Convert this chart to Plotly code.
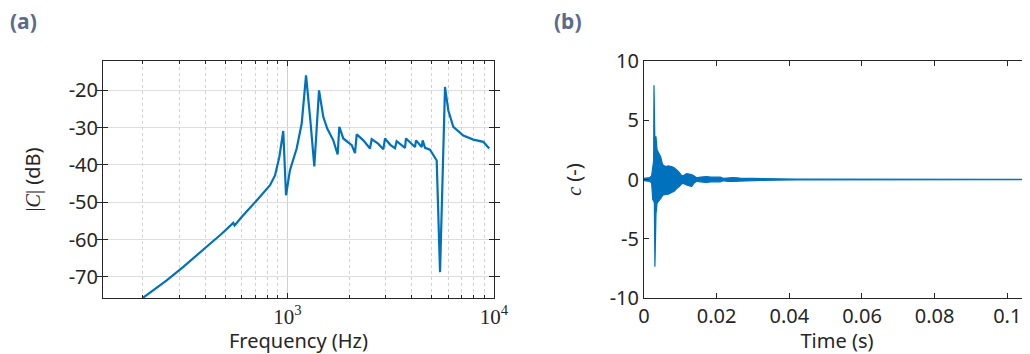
import plotly.graph_objects as go

# ---------------- data: panel (a) ----------------
freq_hz = [200, 260, 314, 370, 423, 480, 530, 548, 556, 600, 711, 825, 872, 915, 956,
           986, 1030, 1110, 1174, 1232, 1297, 1351, 1424, 1493, 1562, 1670, 1752, 1785,
           1866, 2049, 2126, 2167, 2333, 2512, 2560, 2750, 2914, 2970, 3150, 3319, 3381,
           3550, 3710, 3752, 3950, 4148, 4195, 4385, 4467, 4518, 4640, 4902, 5183, 5282,
           5482, 5794, 6012, 6355, 7104, 7943, 8875, 9480]
mag_db = [-75.6, -71.0, -67.3, -64.0, -61.1, -58.5, -56.3, -55.5, -56.2, -54.0, -49.5,
          -45.4, -42.8, -37.9, -30.9, -48.1, -41.4, -35.6, -28.9, -16.0, -28.9, -40.4,
          -20.0, -27.1, -30.3, -33.4, -37.2, -29.8, -32.9, -34.7, -36.8, -31.8, -33.4,
          -35.6, -33.1, -34.3, -35.8, -32.9, -34.6, -35.5, -33.6, -34.5, -35.4, -32.9,
          -34.2, -35.2, -33.4, -34.7, -35.2, -33.4, -35.4, -35.9, -38.0, -38.8, -68.7,
          -19.1, -25.4, -29.8, -32.1, -33.2, -33.8, -35.6]

# ---------------- data: panel (b) (envelope of the oscillating signal) ----------------
t_s = [0, 0.0015, 0.0021, 0.0024, 0.00265, 0.00275, 0.00285, 0.0030, 0.0031, 0.0033,
       0.0036, 0.0039, 0.0043, 0.0046, 0.0050, 0.0053, 0.0060, 0.0067, 0.0076, 0.0083,
       0.0090, 0.0097, 0.0104, 0.0110, 0.0117, 0.0124, 0.0131, 0.0138, 0.0145, 0.0155,
       0.0165, 0.0172, 0.0185, 0.0200, 0.0210, 0.0218, 0.0230, 0.0246, 0.0264, 0.0290,
       0.0320, 0.0360, 0.0420, 0.1100]
c_upper = [0.1, 0.15, 0.3, 1.3, 1.6, 7.96, 3.0, 3.0, 3.6, 3.6, 2.5, 2.3, 2.0, 1.9, 1.4,
           1.2, 1.1, 1.15, 1.1, 1.0, 0.8, 0.6, 0.3, 0.35, 0.5, 0.45, 0.42, 0.3, 0.14, 0.2,
           0.25, 0.25, 0.2, 0.2, 0.2, 0.1, 0.15, 0.17, 0.12, 0.1, 0.08, 0.06, 0.03, 0.02]
c_lower = [-0.1, -0.15, -0.3, -1.7, -1.8, -2.0, -2.0, -7.37, -2.9, -2.9, -2.0, -1.9,
           -1.7, -1.6, -1.4, -1.3, -1.25, -1.24, -1.1, -1.0, -0.76, -0.6, -0.35, -0.35,
           -0.45, -0.5, -0.6, -0.3, -0.14, -0.2, -0.25, -0.25, -0.2, -0.2, -0.2, -0.1,
           -0.15, -0.15, -0.12, -0.1, -0.08, -0.06, -0.03, -0.02]

x_major = [1000, 10000]
x_major_text = ["10<sup>3</sup>", "10<sup>4</sup>"]
x_minor = [200, 300, 400, 500, 600, 700, 800, 900, 2000, 3000, 4000, 5000, 6000, 7000, 8000, 9000]
y_ticks_a = [-70, -60, -50, -40, -30, -20]
y_ticks_a_text = ["-70", "-60", "-50", "-40", "-30", "-20"]
x_ticks_b = [0, 0.02, 0.04, 0.06, 0.08, 0.1]
x_ticks_b_text = ["0", "0.02", "0.04", "0.06", "0.08", "0.1"]
y_ticks_b = [-10, -5, 0, 5, 10]
y_ticks_b_text = ["-10", "-5", "0", "5", "10"]

BLUE = "#0072BD"
INK = "#262626"
GRID = "#dedede"
SANS = "Noto Sans"
SERIF = "Liberation Serif"
FS = 20
# page body has an 8px margin: figure is drawn from (8, 8) of the window
W, H = 1022, 346

fig = go.Figure()

fig.add_trace(go.Scatter(x=freq_hz, y=mag_db, mode="lines", xaxis="x", yaxis="y",
                         line=dict(color=BLUE, width=2.2), showlegend=False))
# invisible trace to anchor minor-grid axis
fig.add_trace(go.Scatter(x=[freq_hz[0]], y=[mag_db[0]], mode="markers", xaxis="x3", yaxis="y",
                         marker=dict(opacity=0), showlegend=False, hoverinfo="skip"))

fig.add_trace(go.Scatter(x=t_s, y=c_upper, mode="lines", xaxis="x2", yaxis="y2",
                         line=dict(color=BLUE, width=1.2), showlegend=False))
fig.add_trace(go.Scatter(x=t_s, y=c_lower, mode="lines", xaxis="x2", yaxis="y2",
                         line=dict(color=BLUE, width=1.2), fill="tonexty",
                         fillcolor=BLUE, showlegend=False))

ya_dom = [1 - 290 / H, 1 - 53 / H]
xa_dom = [95 / W, 486 / W]
xb_dom = [636 / W, 1.0]
xa_range = [2.1084, 4.0]

common_line = dict(showline=True, linecolor=INK, linewidth=1, ticks="inside",
                   tickcolor=INK, automargin=False, zeroline=False)

fig.update_layout(
    width=W, height=H,
    margin=dict(l=0, r=0, t=0, b=0),
    paper_bgcolor="white", plot_bgcolor="white",
    font=dict(family=SANS, color=INK, size=FS),
    xaxis=dict(domain=xa_dom, type="log", range=xa_range, anchor="y",
               tickvals=x_major, ticktext=x_major_text, ticklen=5,
               tickfont=dict(family=SERIF, size=21, color=INK),
               mirror="allticks", showgrid=True, gridcolor="#d0d0d0", gridwidth=1,
               title=dict(text="Frequency (Hz)", font=dict(size=FS), standoff=2),
               **common_line),
    xaxis3=dict(domain=xa_dom, type="log", range=xa_range, overlaying="x", anchor="y",
                tickvals=x_minor, showticklabels=False, ticks="inside", ticklen=3,
                tickcolor=INK, showline=False, mirror="allticks",
                showgrid=True, gridcolor="#d2d2d2", griddash="dot", gridwidth=1,
                automargin=False, zeroline=False),
    yaxis=dict(domain=ya_dom, range=[-75.63, -12.15], anchor="x",
               tickvals=y_ticks_a, ticktext=y_ticks_a_text, ticklen=5, mirror="allticks",
               showgrid=True, gridcolor=GRID, gridwidth=1.2,
               tickfont=dict(size=FS),
               title=dict(text='<span style="font-family:Liberation Serif">|<i>C</i>|</span> (dB)',
                          font=dict(size=FS), standoff=22),
               **common_line),
    xaxis2=dict(domain=xb_dom, range=[0, 0.10625], anchor="y2",
                tickvals=x_ticks_b, ticktext=x_ticks_b_text, ticklen=5,
                mirror="allticks", showgrid=False, tickfont=dict(size=FS),
                title=dict(text="Time (s)", font=dict(size=FS), standoff=2),
                **common_line),
    yaxis2=dict(domain=ya_dom, range=[-10, 10], anchor="x2",
                tickvals=y_ticks_b, ticktext=y_ticks_b_text, ticklen=5, mirror=False,
                showgrid=False, tickfont=dict(size=FS),
                title=dict(text='<span style="font-family:Liberation Serif"><i>c</i></span> (-)',
                           font=dict(size=FS), standoff=22),
                **common_line),
    annotations=[
        dict(text="<b>(a)</b>", x=0, y=1 - 13 / H, xref="paper", yref="paper",
             xanchor="left", yanchor="middle", showarrow=False,
             font=dict(family=SANS, size=21, color="#5b6b8c")),
        dict(text="<b>(b)</b>", x=544 / W, y=1 - 13 / H, xref="paper", yref="paper",
             xanchor="left", yanchor="middle", showarrow=False,
             font=dict(family=SANS, size=21, color="#5b6b8c")),
    ],
)

fig.write_html("out.html")
